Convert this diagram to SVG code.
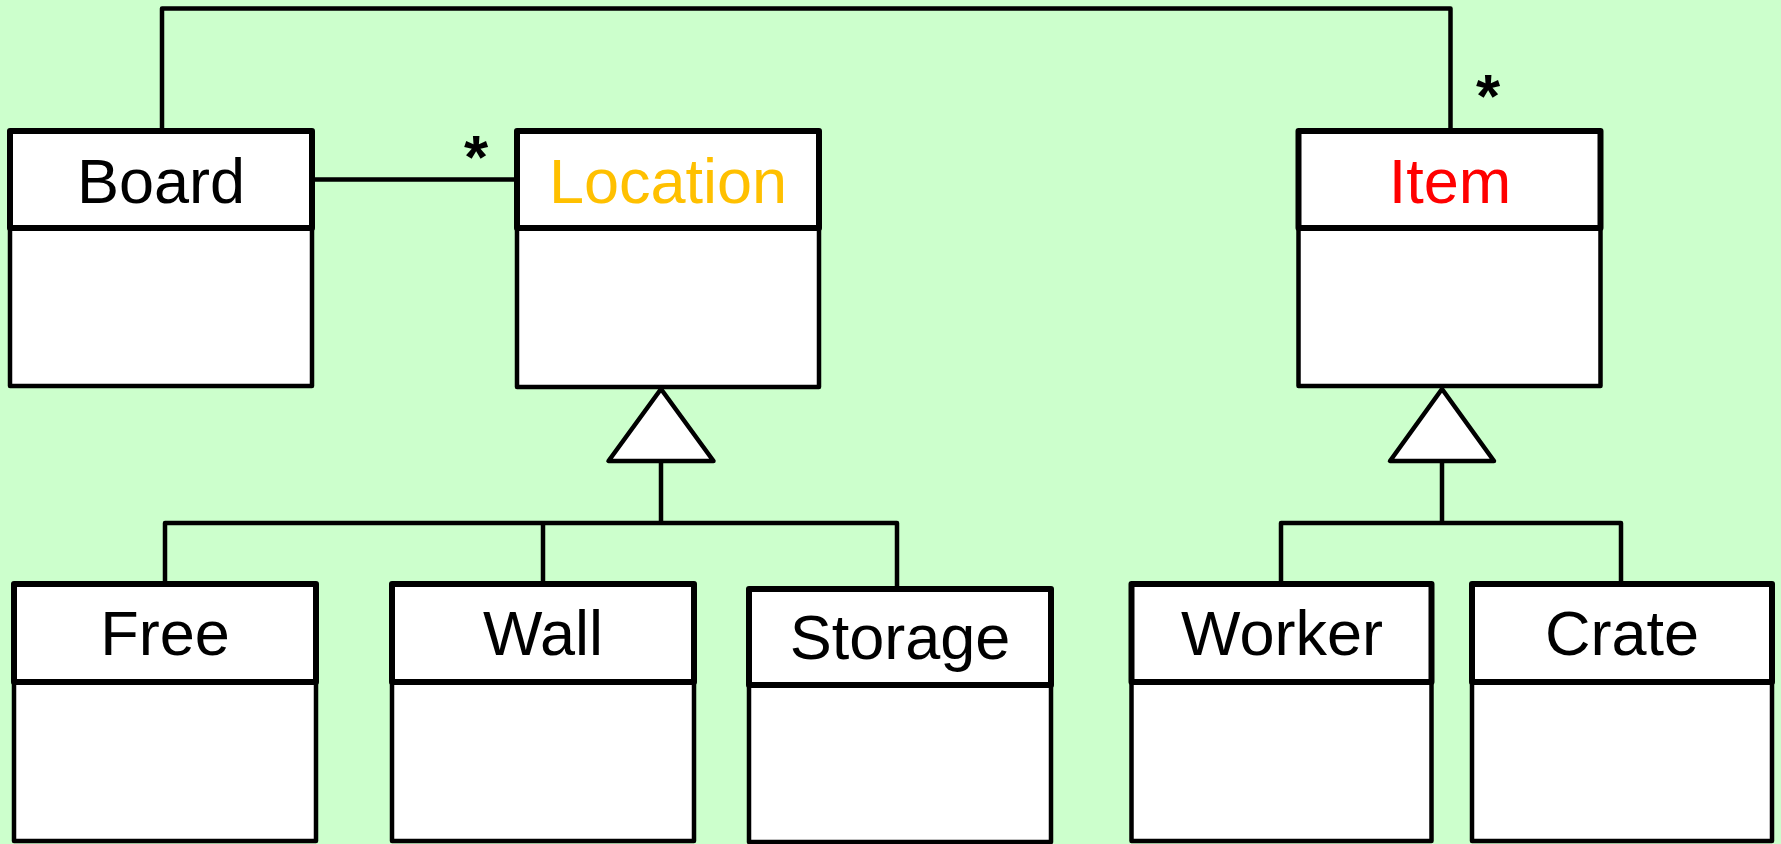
<svg xmlns="http://www.w3.org/2000/svg" width="1781" height="844" viewBox="0 0 1781 844">
  <style>
    .title { fill: #ffffff; stroke: #000000; stroke-width: 6; stroke-linejoin: round; }
    .body { fill: #ffffff; stroke: #000000; stroke-width: 4.5; stroke-linejoin: round; }
    .label { font-family: "Liberation Sans", Arial, sans-serif; font-size: 63px; text-anchor: middle; fill: #000000; }
    .mult { font-family: "Liberation Sans", Arial, sans-serif; font-size: 62px; font-weight: bold; text-anchor: middle; fill: #000000; }
    .line { fill: none; stroke: #000000; stroke-width: 4.5; stroke-linejoin: round; stroke-linecap: butt; }
    .gen { fill: #ffffff; stroke: #000000; stroke-width: 4.5; stroke-linejoin: round; }
  </style>

  <rect x="0" y="0" width="1781" height="844" fill="#ccffcc"/>

  <!-- connectors -->
  <g id="connectors">
    <!-- Board to Item association -->
    <polyline class="line" points="162,131 162,8.5 1450.5,8.5 1450.5,131"/>
    <text class="mult" x="1488" y="117">*</text>
    <!-- Board to Location association -->
    <line class="line" x1="312" y1="179.5" x2="517" y2="179.5"/>
    <text class="mult" x="476" y="178">*</text>
    <!-- Location generalization -->
    <polyline class="line" points="661,461 661,523"/>
    <polyline class="line" points="165,584 165,523 897,523 897,589"/>
    <line class="line" x1="543" y1="523" x2="543" y2="584"/>
    <polygon class="gen" points="661,389 608.5,461 713.5,461"/>
    <!-- Item generalization -->
    <polyline class="line" points="1442,461 1442,523"/>
    <polyline class="line" points="1281,584 1281,523 1621,523 1621,584"/>
    <polygon class="gen" points="1442,389 1390,461 1494,461"/>
  </g>

  <g id="board">
    <rect class="body" x="10" y="228" width="302" height="158"/>
    <rect class="title" x="10" y="131" width="302" height="97"/>
    <text class="label" x="161" y="203">Board</text>
  </g>

  <g id="location">
    <rect class="body" x="517" y="228" width="302" height="159"/>
    <rect class="title" x="517" y="131" width="302" height="97"/>
    <text class="label" x="668" y="203" style="fill:#ffc000">Location</text>
  </g>

  <g id="item">
    <rect class="body" x="1298.5" y="228" width="302" height="158"/>
    <rect class="title" x="1298.5" y="131" width="302" height="97"/>
    <text class="label" x="1450" y="203" style="fill:#ff0000">Item</text>
  </g>

  <g id="free">
    <rect class="body" x="14" y="682" width="302" height="159"/>
    <rect class="title" x="14" y="584" width="302" height="98"/>
    <text class="label" x="165" y="655">Free</text>
  </g>

  <g id="wall">
    <rect class="body" x="392" y="682" width="302" height="159"/>
    <rect class="title" x="392" y="584" width="302" height="98"/>
    <text class="label" x="543" y="655">Wall</text>
  </g>

  <g id="storage">
    <rect class="body" x="749" y="685" width="302" height="157"/>
    <rect class="title" x="749" y="589" width="302" height="96"/>
    <text class="label" x="900" y="659">Storage</text>
  </g>

  <g id="worker">
    <rect class="body" x="1131.5" y="682" width="300" height="159"/>
    <rect class="title" x="1131.5" y="584" width="300" height="98"/>
    <text class="label" x="1282" y="655">Worker</text>
  </g>

  <g id="crate">
    <rect class="body" x="1472" y="682" width="300" height="159"/>
    <rect class="title" x="1472" y="584" width="300" height="98"/>
    <text class="label" x="1622" y="655">Crate</text>
  </g>
</svg>
